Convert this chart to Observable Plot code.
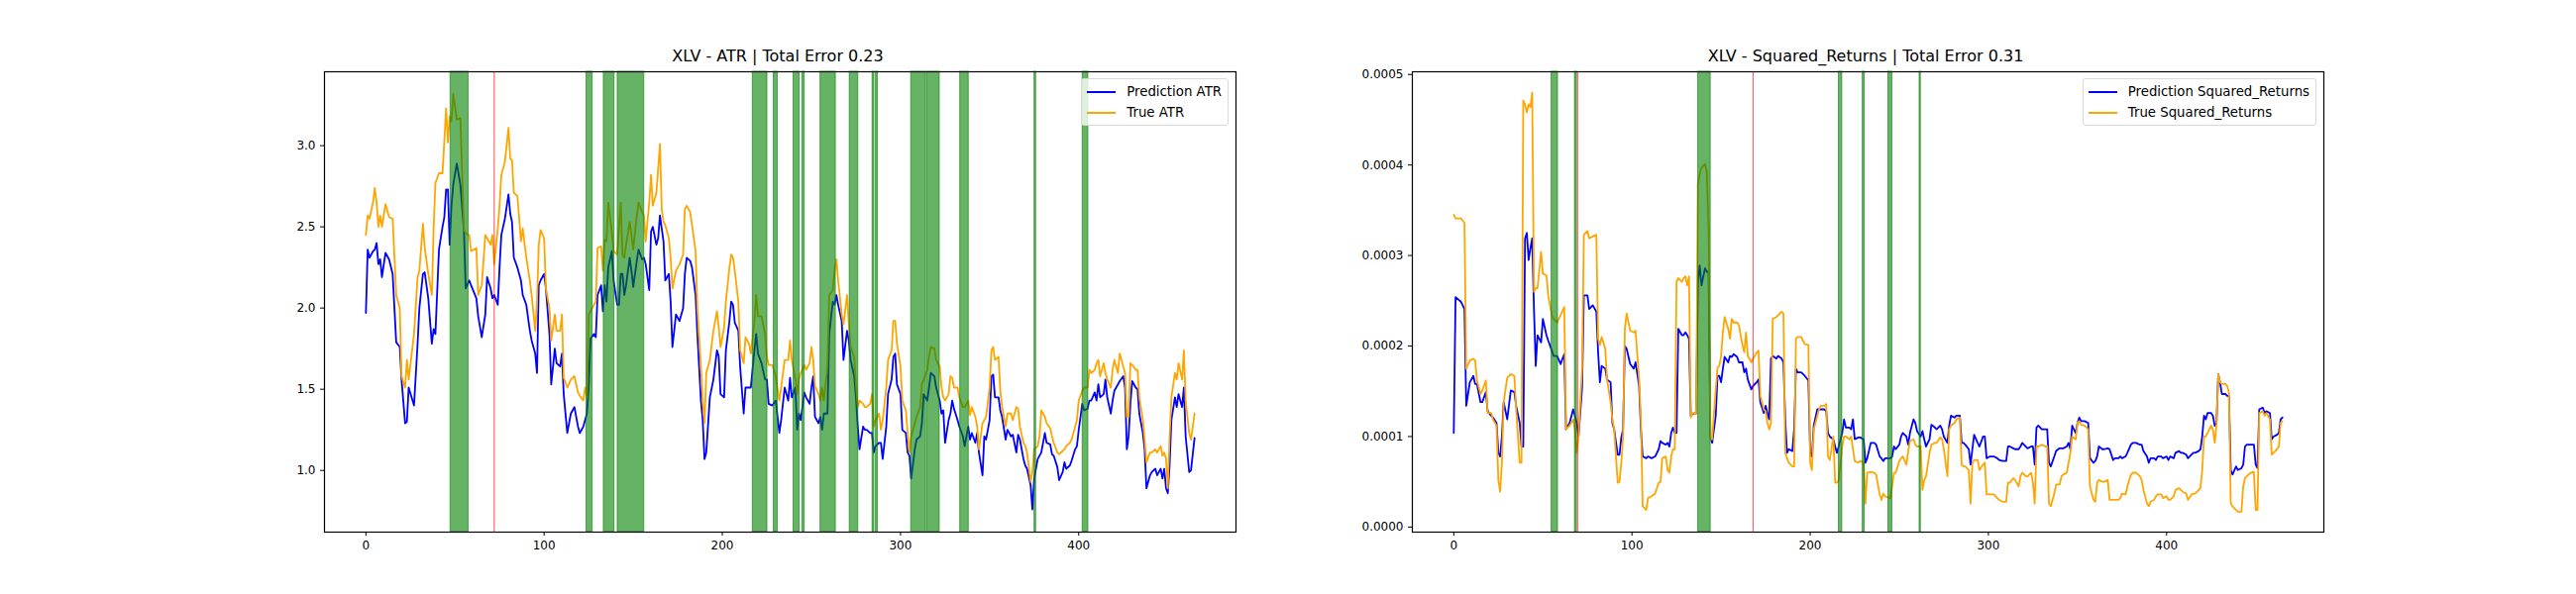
<!DOCTYPE html>
<html>
<head>
<meta charset="utf-8">
<script src="https://cdn.jsdelivr.net/npm/d3@7"></script>
<script src="https://cdn.jsdelivr.net/npm/@observablehq/plot@0.6"></script>
<style>
  body { margin: 0; background: white; }
  #wrap { position: relative; width: 2600px; height: 600px; font-family: "DejaVu Sans", sans-serif; }
  .title { position: absolute; top: 47px; font-size: 16px; line-height: 19px; transform: translateX(-50%); white-space: nowrap; }
  .panel { position: absolute; top: 67px; }
  .legend { position: absolute; top: 79px; border: 1px solid #d9d9d9; border-radius: 3px; background: rgba(255,255,255,0.8);
            padding: 2px 6px 2px 5px; font-size: 13.3px; line-height: 21px; }
  .legend span.sw { display: inline-block; width: 29px; height: 2px; vertical-align: middle; margin-right: 11px; }
</style>
</head>
<body>
<div id="wrap"></div>
<script>
// ATR: [index, prediction, true]
const atrRows = [
[0,1.97,2.45],[1,2.36,2.57],[2,2.31,2.55],[4,2.35,2.65],[5,2.36,2.74],[6,2.40,2.65],[7,2.27,2.50],[8,2.30,2.57],[9,2.19,2.50],[11,2.34,2.64],
[13,2.30,2.56],[15,2.21,2.55],[16,2.00,2.32],[17,1.79,2.08],[19,1.76,2.00],[20,1.56,1.58],[22,1.29,1.51],[23,1.30,1.68],[24,1.51,1.56],[27,1.40,1.84],
[29,1.78,2.19],[30,2.00,2.23],[32,2.21,2.52],[33,2.22,2.37],[35,2.06,2.21],[37,1.78,2.08],[38,1.87,2.49],[39,1.84,2.77],[41,2.36,2.83],[43,2.50,2.83],
[44,2.56,3.03],[45,2.73,3.23],[46,2.73,3.02],[47,2.39,3.18],[48,2.63,3.15],[49,2.76,3.32],[51,2.89,3.16],[53,2.76,3.17],[55,2.48,2.48],[56,2.12,2.46],
[58,2.17,2.45],[59,2.14,2.35],[62,2.06,2.37],[63,1.95,2.08],[65,1.82,2.14],[67,1.96,2.45],[68,2.19,2.43],[70,2.12,2.39],[71,2.06,2.45],[72,2.08,2.27],
[74,2.02,2.49],[75,2.25,2.63],[76,2.45,2.82],[78,2.55,2.90],[80,2.70,3.11],[81,2.58,2.92],[82,2.53,2.91],[83,2.31,2.71],[85,2.25,2.69],[87,2.17,2.41],
[88,2.08,2.49],[90,2.02,2.31],[92,1.86,2.17],[93,1.80,2.08],[95,1.72,1.86],[96,1.60,2.04],[97,2.14,2.39],[98,2.17,2.48],[100,2.21,2.43],[101,2.12,2.12],
[103,1.84,2.00],[104,1.53,1.80],[106,1.75,1.96],[107,1.66,1.86],[109,1.64,1.86],[110,1.72,1.96],[111,1.47,1.57],[113,1.23,1.51],[115,1.35,1.56],[117,1.39,1.58],
[119,1.27,1.48],[120,1.23,1.46],[122,1.27,1.43],[123,1.31,1.51],[124,1.35,1.45],[125,1.51,1.96],[126,1.81,1.98],[128,1.84,2.02],[129,1.82,2.04],[130,2.08,2.37],
[132,2.14,2.38],[133,1.98,2.23],[134,2.14,2.42],[135,2.04,2.41],[136,2.25,2.65],[138,2.35,2.47],[139,2.17,2.35],[141,2.02,2.33],[142,2.02,2.49],[143,2.21,2.65],
[144,2.21,2.33],[145,2.08,2.31],[146,2.14,2.39],[148,2.31,2.53],[149,2.23,2.45],[150,2.13,2.36],[152,2.29,2.57],[153,2.36,2.65],[155,2.30,2.59],[156,2.31,2.57],
[157,2.27,2.41],[159,2.11,2.65],[160,2.47,2.82],[161,2.50,2.63],[163,2.39,2.71],[164,2.43,2.86],[165,2.57,3.01],[166,2.49,2.61],[167,2.41,2.53],[168,2.17,2.51],
[170,2.21,2.43],[171,2.04,2.31],[172,1.76,2.12],[174,1.96,2.23],[176,1.92,2.27],[178,2.00,2.33],[179,2.21,2.61],[180,2.31,2.63],[182,2.29,2.59],[183,2.25,2.51],
[185,2.08,2.35],[186,1.84,2.00],[188,1.43,1.64],[189,1.31,1.43],[190,1.07,1.29],[191,1.11,1.60],[193,1.45,1.68],[195,1.56,1.86],[197,1.74,1.98],[198,1.70,1.88],
[199,1.47,1.76],[201,1.45,1.88],[202,1.74,2.04],[204,1.92,2.25],[205,2.04,2.33],[206,2.02,2.31],[207,1.91,2.23],[209,1.86,2.04],[210,1.64,1.74],[212,1.35,1.66],
[213,1.51,1.82],[215,1.51,1.78],[216,1.51,1.72],[218,1.74,1.92],[219,1.84,2.08],[220,1.72,1.95],[222,1.66,1.95],[224,1.56,1.84],[225,1.56,1.70],[226,1.41,1.65],
[228,1.40,1.65],[230,1.43,1.58],[232,1.23,1.43],[233,1.31,1.51],[235,1.51,1.68],[237,1.43,1.68],[238,1.57,1.80],[239,1.45,1.68],[241,1.51,1.56],[242,1.25,1.47],
[243,1.35,1.56],[244,1.31,1.60],[246,1.48,1.65],[247,1.45,1.62],[249,1.41,1.66],[250,1.51,1.76],[251,1.58,1.68],[252,1.33,1.52],[254,1.29,1.47],[255,1.33,1.43],
[256,1.25,1.51],[257,1.35,1.43],[259,1.35,1.64],[260,1.84,2.08],[262,2.04,2.11],[263,2.02,2.23],[264,2.08,2.30],[265,2.02,2.17],[267,1.92,1.96],[268,1.68,1.90],
[270,1.86,2.08],[271,1.80,1.90],[272,1.68,1.76],[274,1.58,1.70],[275,1.45,1.53],[276,1.27,1.39],[277,1.13,1.43],[279,1.27,1.41],[280,1.25,1.39],[281,1.25,1.39],
[283,1.23,1.41],[284,1.23,1.47],[285,1.11,1.27],[286,1.15,1.31],[288,1.17,1.35],[289,1.17,1.25],[290,1.07,1.31],[292,1.27,1.51],[293,1.47,1.68],[295,1.56,1.74],
[296,1.70,1.92],[297,1.72,1.92],[298,1.53,1.78],[300,1.47,1.64],[301,1.25,1.43],[303,1.23,1.37],[304,1.11,1.23],[305,1.09,1.11],[306,0.95,1.21],[308,1.13,1.29],
[309,1.19,1.33],[311,1.21,1.39],[312,1.29,1.53],[313,1.47,1.56],[315,1.43,1.62],[316,1.51,1.70],[317,1.60,1.76],[319,1.58,1.75],[320,1.51,1.68],[322,1.43,1.64],
[323,1.35,1.51],[324,1.37,1.45],[325,1.17,1.43],[327,1.31,1.47],[328,1.35,1.58],[329,1.43,1.57],[330,1.38,1.51],[332,1.31,1.51],[333,1.27,1.45],[335,1.21,1.39],
[336,1.15,1.39],[338,1.27,1.43],[339,1.19,1.34],[340,1.23,1.39],[342,1.17,1.33],[343,1.23,1.27],[344,1.11,1.13],[346,0.97,1.29],[347,1.21,1.31],[348,1.19,1.33],
[350,1.31,1.51],[351,1.58,1.74],[352,1.59,1.76],[353,1.45,1.68],[355,1.45,1.70],[356,1.37,1.49],[357,1.33,1.39],[359,1.19,1.27],[360,1.25,1.35],[362,1.21,1.35],
[363,1.22,1.31],[365,1.11,1.39],[366,1.22,1.38],[367,1.19,1.27],[369,1.07,1.17],[370,1.03,1.15],[371,1.01,1.11],[373,0.91,0.93],[374,0.76,0.99],[375,0.95,1.13],
[377,1.07,1.15],[378,1.09,1.21],[379,1.11,1.37],[381,1.23,1.33],[382,1.17,1.29],[384,1.16,1.26],[385,1.10,1.21],[386,1.09,1.17],[388,1.02,1.11],[389,0.94,1.10],
[391,0.99,1.12],[392,1.05,1.13],[393,1.01,1.15],[395,1.03,1.17],[396,1.06,1.19],[398,1.13,1.27],[399,1.15,1.31],[400,1.25,1.43],[402,1.41,1.49],[403,1.37,1.51],
[405,1.38,1.51],[406,1.43,1.62],[407,1.43,1.60],[409,1.48,1.62],[410,1.43,1.66],[411,1.53,1.68],[412,1.45,1.58],[414,1.47,1.66],[415,1.56,1.60],[416,1.45,1.56],
[418,1.35,1.51],[419,1.43,1.62],[420,1.49,1.68],[422,1.53,1.60],[423,1.55,1.72],[425,1.58,1.64],[426,1.51,1.60],[427,1.13,1.33],[428,1.21,1.33],[429,1.41,1.66],
[430,1.55,1.65],[432,1.51,1.62],[433,1.50,1.62],[434,1.35,1.45],[436,1.23,1.31],[437,1.13,1.19],[438,0.89,1.05],[440,0.97,1.11],[441,0.99,1.11],[443,1.01,1.13],
[444,0.97,1.11],[446,1.01,1.15],[447,0.95,1.09],[448,1.01,1.11],[449,0.89,1.07],[450,0.86,0.89],[451,1.03,1.21],[452,1.31,1.45],[454,1.45,1.60],[455,1.39,1.56],
[456,1.47,1.66],[458,1.39,1.56],[459,1.51,1.74],[460,1.21,1.43],[462,0.99,1.23],[463,1.00,1.19],[465,1.20,1.35]
];

// Squared returns (units of 1e-4): [index, prediction, true]
const sqRows = [
[0,1.04,3.45],[1,2.54,3.41],[4,2.49,3.41],[6,2.41,3.36],[7,1.34,1.75],[9,1.60,1.84],[11,1.67,1.86],[12,1.58,1.84],[13,1.58,1.62],[15,1.38,1.47],
[16,1.38,1.51],[18,1.49,1.62],[19,1.28,1.26],[21,1.23,1.26],[22,1.21,1.19],[24,1.15,1.12],[25,0.82,0.52],[26,0.78,0.39],[27,1.00,0.71],[28,1.38,1.38],
[30,1.19,1.65],[32,1.51,1.69],[34,1.49,1.67],[35,1.34,1.30],[37,1.15,0.71],[38,0.89,0.71],[39,0.89,4.71],[40,3.19,4.67],[41,3.25,4.58],[42,2.95,4.67],
[43,3.08,4.64],[44,3.19,4.80],[45,2.41,2.60],[46,1.78,2.64],[47,2.12,2.64],[49,2.04,3.04],[50,2.30,2.80],[52,2.12,2.78],[53,2.06,2.56],[55,1.95,2.34],
[56,1.89,2.30],[58,1.89,2.26],[60,1.80,2.34],[61,1.86,2.39],[62,1.91,2.43],[63,1.08,1.08],[65,1.15,1.12],[67,1.30,1.19],[68,1.23,1.08],[69,1.15,0.82],
[70,1.00,1.00],[72,1.54,1.75],[73,2.56,3.23],[75,2.56,3.27],[76,2.41,3.19],[78,2.45,3.21],[80,2.38,3.23],[81,1.93,2.08],[82,1.60,2.01],[83,1.78,2.10],
[85,1.75,1.97],[86,1.63,1.63],[88,1.60,1.38],[89,1.15,1.19],[90,1.08,1.08],[92,0.80,0.49],[93,0.80,0.50],[94,0.99,0.71],[95,1.08,1.00],[96,2.00,2.19],
[97,1.97,2.36],[99,1.80,2.17],[101,1.75,2.15],[102,1.82,2.17],[104,1.56,1.63],[105,1.08,1.19],[106,0.78,0.23],[108,0.76,0.19],[109,0.78,0.32],[111,0.76,0.34],
[113,0.78,0.37],[115,0.86,0.49],[116,0.95,0.50],[117,0.93,0.76],[119,0.91,0.78],[120,0.93,0.63],[121,0.89,0.60],[122,1.04,0.78],[123,1.10,0.86],[124,1.04,0.86],
[125,1.04,2.71],[126,2.19,2.75],[128,2.12,2.71],[129,2.12,2.75],[130,2.15,2.77],[131,2.12,2.67],[132,2.08,2.77],[133,1.23,1.21],[134,1.25,1.26],[136,1.26,1.25],
[137,2.71,3.78],[138,2.89,3.90],[139,2.67,3.97],[141,2.86,4.01],[142,2.82,3.93],[143,2.82,3.30],[144,1.00,0.97],[145,0.93,0.97],[147,1.23,1.52],[148,1.67,1.76],
[149,1.67,1.78],[150,1.60,1.89],[151,1.75,2.15],[152,1.88,2.32],[154,1.82,2.19],[155,1.89,2.08],[156,1.88,2.30],[157,1.91,2.26],[159,1.88,2.26],[160,1.82,2.23],
[162,1.82,2.01],[163,1.71,1.93],[164,1.75,2.15],[165,1.63,1.89],[167,1.52,1.82],[168,1.56,1.86],[170,1.60,1.93],[171,1.63,1.95],[172,1.38,1.45],[174,1.26,1.30],
[175,1.34,1.28],[176,1.26,1.15],[177,1.19,1.08],[178,1.86,1.15],[179,1.89,2.30],[181,1.86,2.32],[182,1.89,2.34],[184,1.86,2.38],[185,1.82,2.36],[186,1.19,0.82],
[187,0.82,0.76],[188,0.86,0.71],[190,0.84,0.67],[191,1.08,0.67],[192,1.75,2.08],[193,1.71,2.10],[195,1.71,2.10],[196,1.69,2.06],[197,1.67,2.02],[199,1.62,2.01],
[200,0.82,0.71],[201,0.78,0.63],[202,1.12,1.08],[204,1.30,1.23],[205,1.30,1.30],[206,1.30,1.34],[208,1.30,1.34],[209,1.28,1.36],[210,1.04,0.78],[211,1.00,0.74],
[213,0.97,1.00],[214,0.89,0.49],[215,0.82,0.49],[216,0.89,0.52],[218,1.04,0.89],[219,1.19,1.00],[220,1.10,1.00],[222,1.10,0.97],[223,1.08,1.00],[224,1.19,0.86],
[225,0.97,0.73],[227,0.99,0.71],[228,0.99,0.73],[230,0.97,0.71],[231,0.71,0.26],[232,0.76,0.60],[234,0.93,0.61],[236,0.93,0.60],[237,0.91,0.58],[239,0.78,0.36],
[240,0.76,0.30],[241,0.73,0.37],[242,0.76,0.34],[245,0.76,0.32],[246,0.78,0.45],[247,0.89,0.60],[248,0.86,0.60],[250,0.91,0.73],[251,1.00,0.76],[252,1.04,0.78],
[254,1.00,0.69],[255,0.91,0.84],[256,1.04,0.95],[258,1.19,0.97],[259,1.15,0.91],[260,1.06,0.89],[262,1.00,0.89],[263,1.06,0.41],[264,0.97,0.52],[265,0.89,0.56],
[267,0.97,0.82],[268,1.13,0.91],[270,1.10,0.93],[271,1.08,0.93],[273,1.12,0.99],[274,1.08,0.97],[275,1.00,0.86],[277,0.93,0.56],[278,1.12,1.08],[279,1.23,1.12],
[281,1.21,1.15],[282,1.23,1.19],[284,1.23,1.21],[285,0.93,0.69],[286,0.93,0.67],[287,0.91,0.67],[289,0.86,0.63],[290,0.69,0.26],[291,0.86,0.71],[292,1.02,0.74],
[294,0.93,0.74],[295,0.89,0.63],[297,1.00,0.69],[298,1.00,0.71],[299,0.76,0.36],[301,0.78,0.36],[303,0.78,0.36],[305,0.76,0.32],[306,0.74,0.30],[308,0.73,0.28],
[310,0.73,0.28],[311,0.89,0.49],[312,0.89,0.49],[314,0.87,0.54],[315,0.86,0.52],[317,0.86,0.45],[318,0.89,0.56],[319,0.93,0.60],[321,0.89,0.56],[322,0.87,0.56],
[324,0.89,0.60],[325,0.89,0.49],[326,0.69,0.26],[327,1.10,0.89],[328,1.12,0.89],[330,1.08,0.91],[332,1.08,0.89],[333,1.08,0.89],[334,0.71,0.26],[335,0.67,0.23],
[337,0.78,0.37],[338,0.84,0.47],[340,0.87,0.47],[341,0.87,0.56],[342,0.87,0.58],[344,0.89,0.60],[345,0.93,0.71],[346,0.86,0.82],[347,1.12,1.00],[349,1.04,0.97],
[350,1.15,1.15],[351,1.21,1.17],[352,1.17,1.13],[354,1.17,1.12],[356,1.15,1.08],[357,0.76,0.45],[359,0.71,0.30],[360,0.73,0.28],[361,0.78,0.49],[362,0.89,0.52],
[364,0.86,0.50],[365,0.86,0.50],[367,0.87,0.52],[368,0.86,0.30],[370,0.74,0.30],[371,0.76,0.30],[373,0.76,0.30],[374,0.78,0.32],[375,0.76,0.37],[377,0.78,0.36],
[378,0.82,0.45],[380,0.91,0.58],[381,0.93,0.60],[383,0.93,0.60],[385,0.91,0.56],[386,0.91,0.52],[387,0.84,0.41],[389,0.78,0.26],[390,0.71,0.23],[391,0.76,0.28],
[393,0.76,0.30],[394,0.74,0.34],[395,0.78,0.36],[397,0.78,0.36],[398,0.76,0.32],[400,0.78,0.34],[401,0.74,0.30],[402,0.78,0.30],[404,0.76,0.34],[405,0.82,0.41],
[407,0.84,0.43],[408,0.82,0.41],[409,0.82,0.39],[411,0.80,0.37],[412,0.76,0.30],[414,0.80,0.36],[415,0.82,0.37],[416,0.82,0.37],[418,0.84,0.41],[419,0.86,0.43],
[420,1.00,0.63],[421,1.23,1.00],[422,1.19,1.00],[423,1.26,1.04],[425,1.26,1.12],[426,1.23,1.08],[427,1.12,0.93],[428,1.15,1.12],[429,1.69,1.69],[430,1.60,1.60],
[431,1.47,1.58],[433,1.47,1.58],[434,1.45,1.56],[435,1.45,1.49],[436,0.63,0.26],[437,0.58,0.23],[439,0.67,0.19],[440,0.63,0.17],[442,0.65,0.17],[443,0.69,0.45],
[444,0.89,0.54],[445,0.91,0.56],[447,0.91,0.60],[449,0.91,0.61],[450,0.69,0.19],[451,0.65,0.19],[452,1.30,1.26],[454,1.32,1.28],[455,1.26,1.23],[456,1.28,1.26],
[458,1.26,1.19],[459,0.97,0.80],[460,1.00,0.82],[462,1.02,0.86],[463,1.04,0.89],[464,1.19,1.15],[465,1.21,1.17]
];

// highlighted spans [start, end] and red marker lines
const atrSpans = [[47.5,57.6],[123.8,127.2],[133.5,139.5],[141.3,156.2],[217.1,225.3],[228.9,231.1],[240,243.4],[245,246.2],[255.1,263.7],
  [271.5,276.3],[284.3,285.3],[286.2,287.3],[306,314.3],[314.9,322],[333.5,338.3],[375.2,376.1],[402.2,405.4]];
const atrRed = [72];
const sqSpans = [[54.9,58.5],[68,69.1],[137.1,144.2],[216.1,218],[229.5,230.6],[243.9,246.1],[261.4,262.1]];
const sqRed = [69.5, 168];

const xTicks = [0, 100, 200, 300, 400];
const atrTicks = [1.0, 1.5, 2.0, 2.5, 3.0];
const sqTicks = [0, 1, 2, 3, 4, 5];

const wrap = d3.select("#wrap");

function panel(left, title, rows, yDomain, yTicks, yFmt, spans, reds, labels) {
  const chart = Plot.plot({
    width: 985,
    height: 510,
    marginLeft: 60,
    marginRight: 5,
    marginTop: 5,
    marginBottom: 40,
    x: { domain: [-23.25, 488.25], ticks: xTicks, tickSize: 4, label: null },
    y: { domain: yDomain, ticks: yTicks, tickFormat: yFmt, tickSize: 4, label: null },
    marks: [
      Plot.line(rows, { x: (d) => d[0], y: (d) => d[1], stroke: "blue", strokeWidth: 1.8 }),
      Plot.line(rows, { x: (d) => d[0], y: (d) => d[2], stroke: "orange", strokeWidth: 1.8 }),
      Plot.rect(spans, { x1: (d) => d[0], x2: (d) => d[1], fill: "green", fillOpacity: 0.6, stroke: "green", strokeOpacity: 0.6 }),
      Plot.ruleX(reds, { stroke: "red", strokeOpacity: 0.6, strokeWidth: 1.2 }),
      Plot.frame({ stroke: "black", strokeWidth: 1.2 }),
    ],
    style: { fontFamily: "DejaVu Sans", fontSize: "12px", background: "transparent", color: "black" },
  });
  wrap.append("div").attr("class", "panel").style("left", left - 60 + "px").node().append(chart);
  wrap.append("div").attr("class", "title").style("left", left + 458 + "px").text(title);
  const lg = wrap.append("div").attr("class", "legend").style("right", 2600 - (left + 913) + "px");
  lg.append("div").html(`<span class="sw" style="background:blue"></span>${labels[0]}`);
  lg.append("div").html(`<span class="sw" style="background:orange"></span>${labels[1]}`);
}

panel(327, "XLV - ATR | Total Error 0.23", atrRows, [0.62, 3.455], atrTicks, d3.format(".1f"),
  atrSpans, atrRed, ["Prediction ATR", "True ATR"]);
panel(1425, "XLV - Squared_Returns | Total Error 0.31", sqRows, [-0.056, 5.03], sqTicks, (d) => (d * 1e-4).toFixed(4),
  sqSpans, sqRed, ["Prediction Squared_Returns", "True Squared_Returns"]);
</script>
</body>
</html>
